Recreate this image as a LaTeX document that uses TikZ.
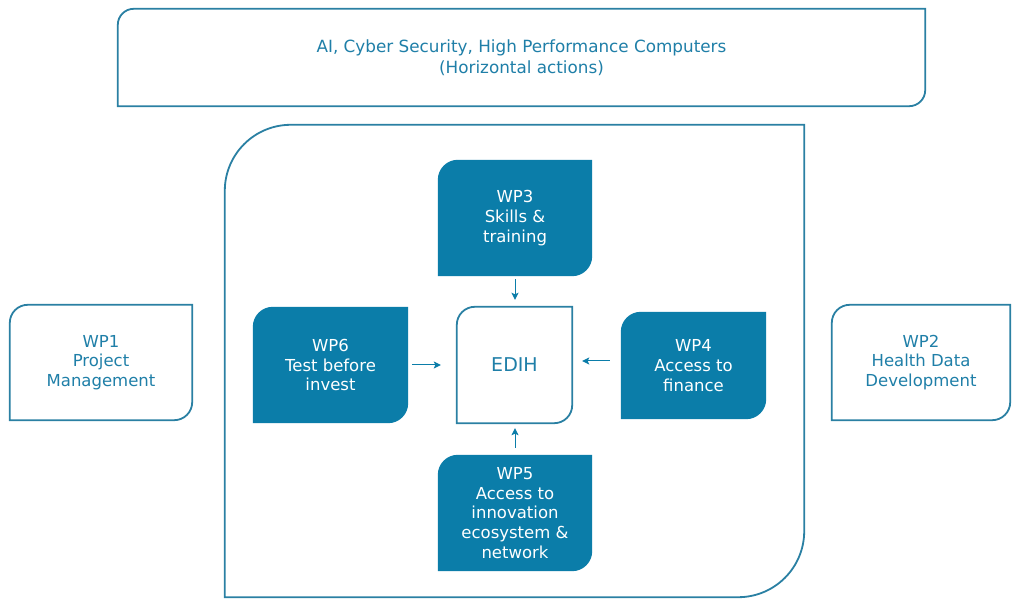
\documentclass[tikz,border=0pt]{standalone}
\usepackage{fontspec}
\setmainfont{DejaVu Sans}
\usetikzlibrary{backgrounds,arrows.meta}
\definecolor{wpblue}{HTML}{0B7DA9}
\definecolor{wpline}{HTML}{2A80A3}
\definecolor{wptext}{HTML}{1F7FA8}
% shape with rounded top-left and bottom-right corners
\newcommand\leafpath[3]{%
  \path[#3] (#1.south west) -- ([yshift=-#2]#1.north west)
    arc[start angle=180,end angle=90,radius=#2] -- (#1.north east)
    -- ([yshift=#2]#1.south east)
    arc[start angle=0,end angle=-90,radius=#2] -- cycle;}
\begin{document}
\begin{tikzpicture}[x=1pt,y=1pt,
  txt/.style={inner sep=0pt, align=center, font=\fontsize{16.5}{19.7}\selectfont},
  outl/.style={txt, text=wptext},
  fillb/.style={txt, text=white},
  outline/.style={draw=wpline, line width=1.8pt, fill=white},
  filled/.style={fill=wpblue},
  arr/.style={draw=wpblue, line width=1pt, -{Stealth[length=7pt,width=7pt,inset=1.5pt]}}]
\useasboundingbox (0,0) rectangle (1012,599);
\node[outl, minimum width=807pt, minimum height=97pt, font=\fontsize{16.8}{21.5}\selectfont] (top) at (521.5,541.5)
  {AI, Cyber Security, High Performance Computers\\(Horizontal actions)};
\node[outl, minimum width=579pt, minimum height=472pt] (frame) at (514.5,238) {};
\node[outl, minimum width=182pt, minimum height=115pt] (wp1) at (101,236.5) {WP1\\Project\\Management};
\node[outl, minimum width=178pt, minimum height=115pt] (wp2) at (921,236.5) {WP2\\Health Data\\Development};
\node[fillb, minimum width=154pt, minimum height=116pt] (wp3) at (515,381) {WP3\\Skills \&\\training};
\node[fillb, minimum width=155pt, minimum height=116pt] (wp6) at (330.5,234) {WP6\\Test before\\invest};
\node[outl, minimum width=115pt, minimum height=116pt, font=\fontsize{19}{22}\selectfont] (edih) at (514.5,234) {EDIH};
\node[fillb, minimum width=145pt, minimum height=107pt] (wp4) at (693.5,233.5) {WP4\\Access to\\finance};
\node[fillb, minimum width=154pt, minimum height=116pt] (wp5) at (515,86) {WP5\\Access to\\innovation\\ecosystem \&\\network};
\begin{scope}[on background layer]
  \leafpath{top}{16pt}{outline}
  \leafpath{frame}{66pt}{outline}
  \leafpath{wp1}{18pt}{outline}
  \leafpath{wp2}{18pt}{outline}
  \leafpath{edih}{18pt}{outline}
  \leafpath{wp3}{20pt}{filled}
  \leafpath{wp6}{20pt}{filled}
  \leafpath{wp4}{20pt}{filled}
  \leafpath{wp5}{20pt}{filled}
\end{scope}
\draw[arr, shorten <=3pt, shorten >=7pt] (wp3.south) -- (wp3.south |- edih.north);
\draw[arr, shorten <=4pt, shorten >=16pt] (wp6.east) -- (wp6.east -| edih.west);
\draw[arr, shorten <=11pt, shorten >=10pt] ([yshift=4.5pt]wp4.west) -- ([yshift=4.5pt]wp4.west -| edih.east);
\draw[arr, shorten <=7pt, shorten >=5pt] (wp5.north) -- (wp5.north |- edih.south);
\end{tikzpicture}
\end{document}
